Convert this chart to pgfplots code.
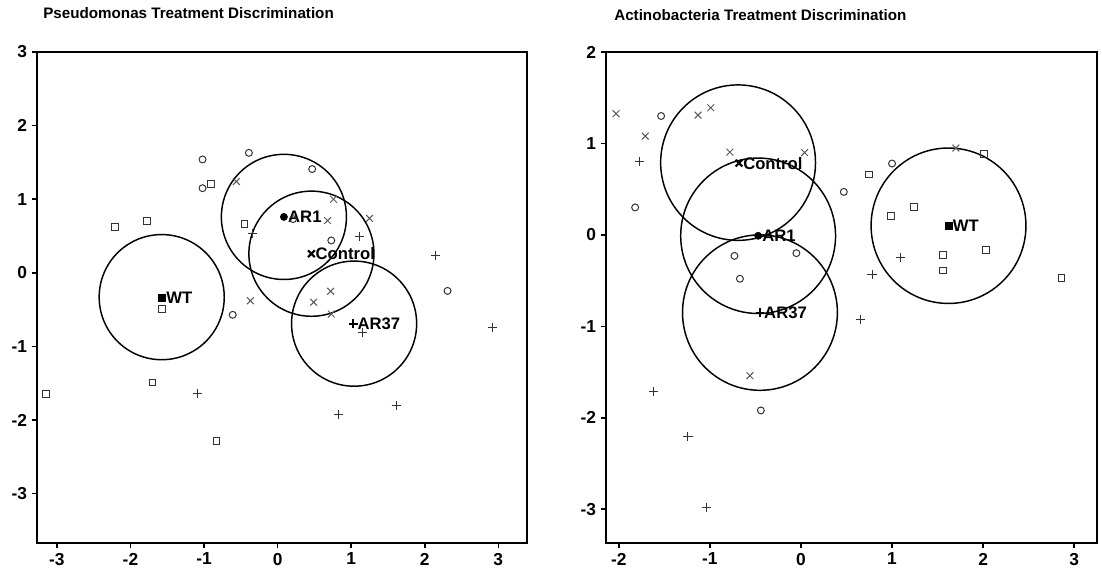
\documentclass[border=0pt]{standalone}
\usepackage{fontspec}
\setmainfont{Liberation Sans}
\usepackage{pgfplots}
\pgfplotsset{compat=1.18}
\pgfplotsset{
 discstyle/.style={
  scale only axis, width=367.5pt, height=368.25pt,
  axis line style={line width=1.4pt},
  tick align=outside, xtick pos=bottom, ytick pos=left,
  major tick length=4pt, tick style={line width=1.2pt, black},
  ticklabel style={font=\bfseries\fontsize{13}{14}\selectfont},
  /pgf/number format/assume math mode=true,
  clip=false, anchor=south west,
 },
 pts/.style={only marks, black!80, mark options={line width=0.75pt}},
}
\tikzset{
 lab/.style={anchor=west, inner sep=0pt, xshift=3pt, font=\bfseries\fontsize{12.5}{14}\selectfont},
 ring/.style={line width=1.1pt, black},
}
\begin{document}
\begin{tikzpicture}
\path[use as bounding box] (0,0) rectangle (826.5pt,432pt);
\node[anchor=west, inner sep=0pt, font=\bfseries\fontsize{11.4}{12}\selectfont] at (32.25pt,422.25pt) {Pseudomonas Treatment Discrimination};
\node[anchor=west, inner sep=0pt, font=\bfseries\fontsize{11.4}{12}\selectfont] at (460.5pt,420.75pt) {Actinobacteria Treatment Discrimination};

\begin{axis}[discstyle, at={(27.75pt,24.75pt)},
  xmin=-3.27, xmax=3.39, ymin=-3.67, ymax=3,
  xtick={-3,...,3}, ytick={-3,...,3}]
\addplot[pts, mark=o, mark size=2.6pt] coordinates {(-1.02,1.54) (-0.39,1.63) (-1.02,1.15) (0.47,1.41) (0.21,0.73) (0.73,0.44) (2.31,-0.245) (-0.61,-0.57)};
\addplot[pts, mark=square, mark size=2.6pt] coordinates {(-0.91,1.21) (-2.21,0.62) (-1.77,0.71) (-0.45,0.66) (-1.57,-0.49) (-1.70,-1.49) (-3.15,-1.65) (-0.83,-2.29)};
\addplot[pts, mark=x, mark size=3.6pt, black!65] coordinates {(-0.56,1.24) (0.76,1.00) (1.25,0.74) (0.68,0.71) (0.72,-0.25) (0.49,-0.40) (0.73,-0.56) (-0.37,-0.38)};
\addplot[pts, mark=+, mark size=3.4pt] coordinates {(-0.34,0.53) (1.11,0.49) (2.15,0.24) (1.15,-0.81) (2.92,-0.74) (1.61,-1.80) (0.83,-1.92) (-1.09,-1.64)};
\draw[ring] (axis cs:-1.575,-0.33) ellipse [x radius=0.85, y radius=0.85];
\draw[ring] (axis cs:0.086,0.76) ellipse [x radius=0.85, y radius=0.85];
\draw[ring] (axis cs:0.46,0.26) ellipse [x radius=0.85, y radius=0.85];
\draw[ring] (axis cs:1.04,-0.69) ellipse [x radius=0.85, y radius=0.85];
\addplot[only marks, mark=square*, mark size=2.7pt, black] coordinates {(-1.57,-0.34)} node[lab] {WT};
\addplot[only marks, mark=*, mark size=2.7pt, black] coordinates {(0.086,0.76)} node[lab] {AR1};
\addplot[only marks, mark=x, mark size=3.6pt, black, mark options={line width=1.6pt}] coordinates {(0.46,0.26)} node[lab] {Control};
\addplot[only marks, mark=+, mark size=3.3pt, black, mark options={line width=1.6pt}] coordinates {(1.03,-0.69)} node[lab] {AR37};
\end{axis}

\begin{axis}[discstyle, at={(454.5pt,24.75pt)}, width=368.25pt,
  xmin=-2.14, xmax=3.25, ymin=-3.37, ymax=2,
  xtick={-2,...,3}, ytick={-3,...,2}]
\addplot[pts, mark=o, mark size=2.6pt] coordinates {(-1.535,1.30) (-1.82,0.30) (-0.73,-0.23) (-0.05,-0.20) (-0.67,-0.48) (-0.44,-1.92) (1.00,0.78) (0.47,0.47)};
\addplot[pts, mark=square, mark size=2.6pt] coordinates {(2.01,0.88) (0.75,0.66) (1.24,0.30) (0.99,0.21) (2.03,-0.17) (1.56,-0.22) (1.56,-0.39) (2.86,-0.47)};
\addplot[pts, mark=x, mark size=3.6pt, black!65] coordinates {(-2.03,1.325) (-1.13,1.31) (-0.99,1.39) (-1.71,1.08) (-0.78,0.905) (0.04,0.90) (1.70,0.95) (-0.56,-1.54)};
\addplot[pts, mark=+, mark size=3.4pt] coordinates {(-1.77,0.80) (-1.62,-1.71) (-1.24,-2.21) (-1.04,-2.98) (1.09,-0.245) (0.78,-0.43) (0.65,-0.93)};
\draw[ring] (axis cs:-0.69,0.79) ellipse [x radius=0.85, y radius=0.85];
\draw[ring] (axis cs:-0.47,-0.01) ellipse [x radius=0.85, y radius=0.85];
\draw[ring] (axis cs:-0.45,-0.85) ellipse [x radius=0.85, y radius=0.85];
\draw[ring] (axis cs:1.62,0.10) ellipse [x radius=0.85, y radius=0.85];
\addplot[only marks, mark=square*, mark size=2.7pt, black] coordinates {(1.62,0.10)} node[lab] {WT};
\addplot[only marks, mark=*, mark size=2.7pt, black] coordinates {(-0.47,-0.01)} node[lab] {AR1};
\addplot[only marks, mark=x, mark size=3.6pt, black, mark options={line width=1.6pt}] coordinates {(-0.68,0.785)} node[lab] {Control};
\addplot[only marks, mark=+, mark size=3.3pt, black, mark options={line width=1.6pt}] coordinates {(-0.45,-0.85)} node[lab] {AR37};
\end{axis}
\end{tikzpicture}
\end{document}
